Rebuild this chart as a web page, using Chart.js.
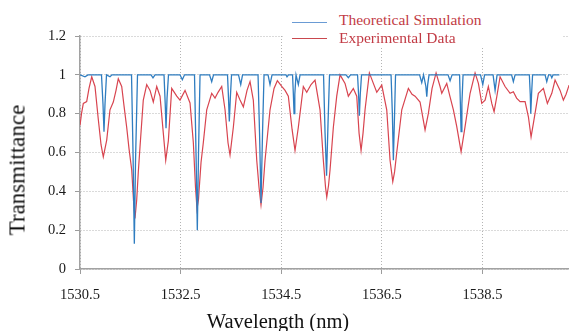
<!DOCTYPE html>
<html>
<head>
<meta charset="utf-8">
<script src="https://cdn.jsdelivr.net/npm/chart.js@4.4.1/dist/chart.umd.min.js"></script>
<style>
  body { margin: 0; background: #fff; overflow: hidden; }
  #wrap { position: relative; width: 569px; height: 331px; font-family: "Liberation Serif", "Times New Roman", serif; }
  #myChart { position: absolute; left: 0; top: 0; }
  .ttl { position: absolute; white-space: nowrap; color: #111; line-height: 1; }
  #legend { position: absolute; left: 283px; top: 3px; width: 280px; height: 43px; background: #fff; }
  .legRow { position: absolute; left: 0; height: 18px; }
  .legLine { position: absolute; left: 9px; width: 35px; height: 0; }
  .legText { position: absolute; left: 56px; top: 0; font-size: 15.5px; line-height: 18px; color: #c23b45; white-space: nowrap; }
</style>
</head>
<body>
<div id="wrap">
  <canvas id="myChart" width="569" height="331"></canvas>
  <div id="legend"></div>
  <div class="ttl" id="yTitle" style="left:17.3px; top:170px; font-size:23px; transform:translate(-50%,-50%) rotate(-90deg);">Transmittance</div>
  <div class="ttl" id="xTitle" style="left:278px; top:311.4px; font-size:20.5px; transform:translateX(-50%);">Wavelength (nm)</div>
</div>
<script>
// theoretical simulation (nm, transmittance)
let simWavelength = [1530.500, 1530.599, 1530.659, 1530.927, 1530.957, 1530.977, 1530.997, 1531.027, 1531.096, 1531.136,
  1531.524, 1531.554, 1531.580, 1531.603, 1531.643, 1531.912, 1531.951, 1531.991, 1532.170, 1532.194, 1532.210, 1532.230, 1532.259,
  1532.488, 1532.534, 1532.578, 1532.776, 1532.806, 1532.832, 1532.856, 1532.886, 1533.075, 1533.118, 1533.154,
  1533.432, 1533.452, 1533.468, 1533.488, 1533.512, 1533.651, 1533.695, 1533.731,
  1534.039, 1534.069, 1534.098, 1534.128, 1534.158, 1534.238, 1534.277, 1534.317, 1534.595, 1534.615, 1534.645,
  1534.725, 1534.741, 1534.755, 1534.770, 1534.794, 1534.840, 1534.874,
  1535.341, 1535.371, 1535.401, 1535.430, 1535.460, 1535.788, 1535.834, 1535.878,
  1536.017, 1536.037, 1536.053, 1536.071, 1536.096, 1536.683, 1536.709, 1536.729, 1536.753, 1536.772,
  1537.250, 1537.293, 1537.329, 1537.375, 1537.393, 1537.411, 1537.438, 1537.816, 1537.856, 1537.896,
  1538.045, 1538.061, 1538.075, 1538.091, 1538.114, 1538.462, 1538.506, 1538.542, 1538.711, 1538.751, 1538.790,
  1539.079, 1539.114, 1539.148, 1539.432, 1539.450, 1539.460, 1539.476, 1539.496,
  1539.745, 1539.778, 1539.814, 1539.854, 1539.878, 1539.904, 1540.029];
let simT = [1.0, 0.99, 1.0, 1.0, 0.85, 0.707, 0.85, 1.0, 0.99, 1.0,
  1.0, 0.6, 0.13, 0.55, 1.0, 1.0, 0.985, 1.0, 1.0, 0.85, 0.725, 0.88, 1.0,
  1.0, 0.975, 1.0, 1.0, 0.6, 0.2, 0.6, 1.0, 1.0, 0.965, 1.0,
  1.0, 0.88, 0.76, 0.88, 1.0, 1.0, 0.95, 1.0,
  1.0, 0.7, 0.34, 0.7, 1.0, 1.0, 0.95, 1.0, 1.0, 0.99, 1.0,
  1.0, 0.9, 0.80, 0.9, 1.0, 0.95, 1.0,
  1.0, 0.7, 0.48, 0.75, 1.0, 1.0, 0.985, 1.0,
  1.0, 0.9, 0.79, 0.9, 1.0, 1.0, 0.8, 0.56, 0.8, 1.0,
  1.0, 0.96, 1.0, 0.94, 0.887, 0.95, 1.0, 1.0, 0.97, 1.0,
  1.0, 0.85, 0.707, 0.85, 1.0, 1.0, 0.95, 1.0, 1.0, 0.92, 1.0,
  1.0, 0.965, 1.0, 1.0, 0.9, 0.80, 0.9, 1.0,
  1.0, 0.965, 1.0, 1.0, 0.985, 1.0, 1.0];

// experimental data (nm, transmittance)
let expWavelength = [1530.500, 1530.530, 1530.566, 1530.633, 1530.679, 1530.733, 1530.798, 1530.864, 1530.918, 1530.963,
  1531.031, 1531.096, 1531.162, 1531.216, 1531.261, 1531.329, 1531.375, 1531.428, 1531.474, 1531.528,
  1531.564, 1531.593, 1531.627, 1531.659, 1531.693, 1531.758, 1531.826, 1531.892, 1531.957, 1532.025,
  1532.091, 1532.156, 1532.204, 1532.256, 1532.323, 1532.423, 1532.488, 1532.588, 1532.687, 1532.753,
  1532.796, 1532.826, 1532.856, 1532.866, 1532.906, 1532.951, 1533.019, 1533.118, 1533.184, 1533.244,
  1533.317, 1533.383, 1533.442, 1533.482, 1533.548, 1533.615, 1533.681, 1533.747, 1533.820, 1533.880,
  1533.945, 1534.013, 1534.059, 1534.098, 1534.138, 1534.178, 1534.277, 1534.357, 1534.423, 1534.510,
  1534.576, 1534.641, 1534.715, 1534.774, 1534.840, 1534.939, 1535.007, 1535.093, 1535.172, 1535.271,
  1535.337, 1535.381, 1535.405, 1535.440, 1535.470, 1535.536, 1535.603, 1535.669, 1535.768, 1535.834,
  1535.933, 1536.001, 1536.047, 1536.087, 1536.126, 1536.166, 1536.252, 1536.331, 1536.399, 1536.498,
  1536.597, 1536.663, 1536.717, 1536.753, 1536.796, 1536.896, 1537.027, 1537.100, 1537.160, 1537.259,
  1537.359, 1537.424, 1537.498, 1537.578, 1537.657, 1537.691, 1537.790, 1537.856, 1537.922, 1537.989,
  1538.075, 1538.154, 1538.254, 1538.353, 1538.419, 1538.486, 1538.552, 1538.617, 1538.685, 1538.731,
  1538.784, 1538.850, 1538.949, 1539.049, 1539.114, 1539.178, 1539.248, 1539.347, 1539.413, 1539.466,
  1539.512, 1539.611, 1539.711, 1539.790, 1539.878, 1539.943, 1540.043, 1540.108, 1540.162, 1540.222];
let expT = [0.74, 0.80, 0.853, 0.862, 0.93, 0.99, 0.94, 0.77, 0.64, 0.578,
  0.664, 0.82, 0.86, 0.92, 0.98, 0.94, 0.84, 0.73, 0.62, 0.51,
  0.35, 0.26, 0.355, 0.5, 0.63, 0.87, 0.95, 0.92, 0.86, 0.94,
  0.89, 0.70, 0.56, 0.66, 0.93, 0.89, 0.87, 0.92, 0.855, 0.65,
  0.42, 0.31, 0.36, 0.40, 0.55, 0.65, 0.82, 0.905, 0.88, 0.91,
  0.94, 0.82, 0.65, 0.587, 0.73, 0.91, 0.87, 0.835, 0.92, 0.965,
  0.87, 0.56, 0.42, 0.33, 0.42, 0.56, 0.82, 0.93, 0.97, 0.94,
  0.92, 0.89, 0.72, 0.61, 0.73, 0.94, 0.91, 0.95, 0.973, 0.82,
  0.56, 0.42, 0.37, 0.43, 0.51, 0.73, 0.89, 1.0, 0.956, 0.89,
  0.93, 0.89, 0.7, 0.61, 0.7, 0.82, 1.01, 0.956, 0.91, 0.947,
  0.82, 0.56, 0.45, 0.5, 0.6, 0.82, 0.93, 0.90, 0.89, 0.86,
  0.716, 0.80, 0.93, 1.01, 0.94, 0.905, 0.956, 0.887, 0.82, 0.733,
  0.604, 0.733, 0.905, 1.01, 0.956, 0.853, 0.87, 0.94, 0.853, 0.81,
  0.887, 0.99, 0.94, 0.905, 0.913, 0.88, 0.862, 0.862, 0.784, 0.68,
  0.75, 0.905, 0.93, 0.853, 0.905, 0.973, 0.92, 0.87, 0.9, 0.947];

let seriesNames = ['Theoretical Simulation', 'Experimental Data'];
let seriesColors = ['#2f7dc0', '#d8444f'];
let legendColors = ['#6a9bd4', '#c9484e'];
let xTicks = [1530.5, 1532.5, 1534.5, 1536.5, 1538.5];
let yTicks = [0, 0.2, 0.4, 0.6, 0.8, 1, 1.2];

function toPoints(xs, ys) {
  return xs.map((x, i) => ({x: x, y: ys[i]}));
}

// legend box in the top right corner
let legend = document.getElementById('legend');
seriesNames.forEach(function(name, i) {
  let row = document.createElement('div');
  row.className = 'legRow';
  row.style.top = (7.8 + i * 18) + 'px';
  row.style.width = '280px';
  let line = document.createElement('div');
  line.className = 'legLine';
  line.style.top = (i == 0 ? 11.5 : 9.5) + 'px';
  line.style.borderTop = '1.6px solid ' + legendColors[i];
  let txt = document.createElement('div');
  txt.className = 'legText';
  txt.textContent = name;
  row.appendChild(line);
  row.appendChild(txt);
  legend.appendChild(row);
});

const gridStyle = {color: '#b4b4b4', lineWidth: 1, tickLength: 5, tickColor: '#9c9c9c', tickBorderDash: []};
const tickFont = {family: '"Liberation Serif", "Times New Roman", serif', size: 14.5};

const ctx = document.getElementById('myChart');
new Chart(ctx, {
  type: 'line',
  data: {
    datasets: [{
      label: seriesNames[0],
      data: toPoints(simWavelength, simT),
      borderColor: seriesColors[0],
      borderWidth: 1.3,
      pointRadius: 0,
      tension: 0,
      fill: false
    }, {
      label: seriesNames[1],
      data: toPoints(expWavelength, expT),
      borderColor: seriesColors[1],
      borderWidth: 1.2,
      pointRadius: 0,
      tension: 0,
      fill: false
    }]
  },
  options: {
    responsive: false,
    animation: false,
    events: [],
    layout: {padding: {top: 36, left: 0, right: 0, bottom: 0}},
    plugins: {legend: {display: false}, tooltip: {enabled: false}},
    scales: {
      x: {
        type: 'linear',
        min: 1530.5,
        max: 1540.22,
        afterBuildTicks: function(scale) { scale.ticks = xTicks.map(v => ({value: v})); },
        afterFit: function(scale) { scale.height = 62; },
        grid: gridStyle,
        border: {color: '#a2a2a2', width: 1.5, dash: [1, 2]},
        ticks: {
          color: '#1a1a1a', font: tickFont, padding: 12, maxRotation: 0, autoSkip: false,
          callback: v => v.toFixed(1)
        }
      },
      y: {
        min: 0,
        max: 1.2,
        afterBuildTicks: function(scale) { scale.ticks = yTicks.map(v => ({value: v})); },
        afterFit: function(scale) { scale.width = 80; },
        grid: gridStyle,
        border: {color: '#a2a2a2', width: 1.5, dash: [1, 2]},
        ticks: {
          color: '#1a1a1a', font: tickFont, padding: 9,
          callback: v => String(+v.toFixed(1))
        }
      }
    }
  }
});
</script>
</body>
</html>
